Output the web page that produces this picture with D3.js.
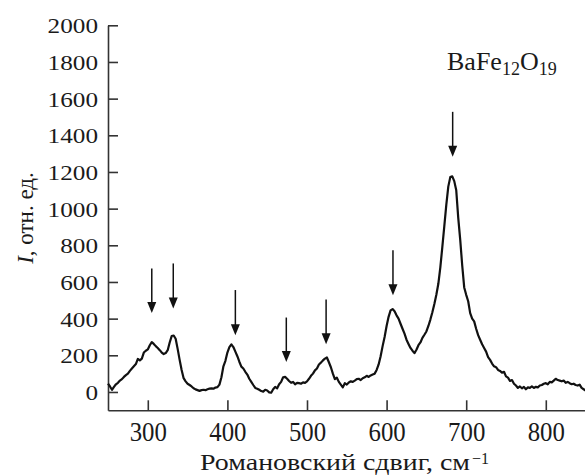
<!DOCTYPE html>
<html>
<head>
<meta charset="utf-8">
<script src="https://cdn.jsdelivr.net/npm/d3@7"></script>
<style>
  html, body { margin: 0; padding: 0; background: #fff; }
  svg { display: block; font-family: "Liberation Serif", "Times New Roman", serif; }
  svg text { font-family: "Liberation Serif", "Times New Roman", serif; fill: #1a1a1a; }
</style>
</head>
<body>
<svg id="chart" width="585" height="475"></svg>
<script>
// Raman spectrum of BaFe12O19: Raman shift (cm^-1) and intensity (arb. units)
const ramanShift = [
  250, 252.5, 255, 257.5, 260, 262.5, 265, 267.5, 270, 272.5,
  275, 277.5, 280, 282.5, 285, 287.5, 290, 292.5, 295, 297.5,
  300, 302.5, 305, 307.5, 310, 312.5, 315, 317.5, 320, 322.5,
  325, 327.5, 330, 332.5, 335, 337.5, 340, 342.5, 345, 347.5,
  350, 352.5, 355, 357.5, 360, 362.5, 365, 367.5, 370, 372.5,
  375, 377.5, 380, 382.5, 385, 387.5, 390, 392.5, 395, 397.5,
  400, 402.5, 405, 407.5, 410, 412.5, 415, 417.5, 420, 422.5,
  425, 427.5, 430, 432.5, 435, 437.5, 440, 442.5, 445, 447.5,
  450, 452.5, 455, 457.5, 460, 462.5, 465, 467.5, 470, 472.5,
  475, 477.5, 480, 482.5, 485, 487.5, 490, 492.5, 495, 497.5,
  500, 502.5, 505, 507.5, 510, 512.5, 515, 517.5, 520, 522.5,
  525, 527.5, 530, 532.5, 535, 537.5, 540, 542.5, 545, 547.5,
  550, 552.5, 555, 557.5, 560, 562.5, 565, 567.5, 570, 572.5,
  575, 577.5, 580, 582.5, 585, 587.5, 590, 592.5, 595, 597.5,
  600, 602.5, 605, 607.5, 610, 612.5, 615, 617.5, 620, 622.5,
  625, 627.5, 630, 632.5, 635, 637.5, 640, 642.5, 645, 647.5,
  650, 652.5, 655, 657.5, 660, 662.5, 665, 667.5, 670, 672.5,
  675, 677.5, 680, 682.5, 685, 687.5, 690, 692.5, 695, 697.5,
  700, 702.5, 705, 707.5, 710, 712.5, 715, 717.5, 720, 722.5,
  725, 727.5, 730, 732.5, 735, 737.5, 740, 742.5, 745, 747.5,
  750, 752.5, 755, 757.5, 760, 762.5, 765, 767.5, 770, 772.5,
  775, 777.5, 780, 782.5, 785, 787.5, 790, 792.5, 795, 797.5,
  800, 802.5, 805, 807.5, 810, 812.5, 815, 817.5, 820, 822.5,
  825, 827.5, 830, 832.5, 835, 837.5, 840, 842.5, 845, 847.5,
  850
];
const intensity = [
  46, 30, 12, 28, 42, 50, 62, 70, 82, 92,
  100, 115, 128, 140, 152, 180, 172, 182, 215, 225,
  232, 255, 272, 262, 250, 240, 228, 215, 207, 212,
  228, 270, 305, 308, 290, 235, 175, 120, 75, 58,
  45, 38, 30, 20, 14, 10, 6, 10, 12, 10,
  15, 18, 20, 18, 24, 26, 40, 80, 140, 170,
  215, 245, 260, 245, 220, 195, 165, 138, 128, 110,
  95, 72, 55, 38, 22, 18, 12, 5, 2, 12,
  8, -2, -4, 15, 28, 20, 42, 55, 80, 82,
  72, 60, 50, 55, 42, 50, 48, 45, 52, 50,
  58, 72, 88, 100, 118, 128, 150, 160, 172, 182,
  188, 162, 135, 100, 70, 78, 55, 40, 25, 48,
  40, 52, 58, 55, 62, 70, 72, 65, 75, 80,
  88, 82, 90, 95, 100, 120, 150, 195, 250, 300,
  360, 410, 445, 452, 440, 418, 400, 372, 345, 318,
  285, 262, 240, 225, 212, 230, 255, 270, 295, 312,
  330, 360, 395, 435, 480, 530, 590, 680, 790, 905,
  1020, 1120, 1172, 1176, 1150, 1100, 950, 830, 690, 570,
  530, 495, 430, 400, 385, 345, 310, 285, 260, 240,
  220, 190, 175, 155, 140, 135, 120, 115, 105, 110,
  85, 78, 60, 65, 45, 35, 22, 30, 20, 28,
  15, 25, 22, 30, 22, 28, 25, 35, 38, 45,
  48, 42, 55, 52, 62, 72, 65, 62, 58, 62,
  50, 55, 48, 42, 45, 38, 35, 40, 22, 15,
  8
];

// Peak markers: position, arrow tip and arrow tail (intensity units)
const arrowShift = [305, 332, 410, 474, 524, 608, 683];
const arrowTip   = [431, 455, 309, 164, 260, 528, 1283];
const arrowTail  = [674, 701, 556, 406, 504, 773, 1528];

const xTicks = [300, 400, 500, 600, 700, 800];
const yTicks = [0, 200, 400, 600, 800, 1000, 1200, 1400, 1600, 1800, 2000];

const svg = d3.select("#chart");
const serif = "'Liberation Serif', 'Times New Roman', serif";

const x = d3.scaleLinear().domain([250, 850]).range([108, 585.6]);
const y = d3.scaleLinear().domain([-100, 2000]).range([410.3, 25.3]);

const axisColor = "#333";

// y axis with inward ticks
const yAxis = svg.append("g")
  .attr("transform", `translate(${x(250)},0)`)
  .call(d3.axisLeft(y).tickValues(yTicks).tickFormat(d3.format("d"))
    .tickSize(-10).tickSizeOuter(0).tickPadding(10));

// x axis with inward ticks
const xAxis = svg.append("g")
  .attr("transform", `translate(0,${y(-100)})`)
  .call(d3.axisBottom(x).tickValues(xTicks).tickFormat(d3.format("d"))
    .tickSize(-10).tickSizeOuter(0));

[yAxis, xAxis].forEach(g => {
  g.attr("font-family", serif);
  g.select(".domain").attr("stroke", axisColor).attr("stroke-width", 1.6);
  g.selectAll(".tick line").attr("stroke", axisColor).attr("stroke-width", 1.6);
});

yAxis.selectAll(".tick text")
  .style("font-family", serif)
  .attr("font-size", 22)
  .attr("fill", "#1a1a1a")
  .attr("dy", "0.34em")
  .attr("textLength", d => String(d).length * 12.6)
  .attr("lengthAdjust", "spacingAndGlyphs");

xAxis.selectAll(".tick text")
  .style("font-family", serif)
  .attr("font-size", 27)
  .attr("fill", "#1a1a1a")
  .attr("y", 31)
  .attr("dy", 0)
  .attr("textLength", d => String(d).length * 12.4)
  .attr("lengthAdjust", "spacingAndGlyphs");

// spectrum
const line = d3.line()
  .x((d, i) => x(ramanShift[i]))
  .y(d => y(d));

svg.append("path")
  .datum(intensity)
  .attr("fill", "none")
  .attr("stroke", "#111")
  .attr("stroke-width", 2.2)
  .attr("stroke-linejoin", "round")
  .attr("d", line);

// peak arrows
const arrows = svg.append("g");
arrowShift.forEach((s, i) => {
  const ax = x(s), yTip = y(arrowTip[i]), yTail = y(arrowTail[i]);
  const headLen = 11, headHalf = 4.5;
  arrows.append("line")
    .attr("x1", ax).attr("x2", ax)
    .attr("y1", yTail).attr("y2", yTip - headLen + 1)
    .attr("stroke", "#111").attr("stroke-width", 1.5);
  arrows.append("path")
    .attr("d", `M${ax},${yTip} L${ax - headHalf},${yTip - headLen} L${ax + headHalf},${yTip - headLen} Z`)
    .attr("fill", "#111");
});

// compound label
const lab = svg.append("text")
  .style("font-family", serif)
  .attr("x", 447).attr("y", 70)
  .attr("font-size", 26);
lab.append("tspan").text("BaFe");
lab.append("tspan").attr("font-size", 18).attr("dy", 5).text("12");
lab.append("tspan").attr("dy", -5).text("O");
lab.append("tspan").attr("font-size", 18).attr("dy", 5).text("19");

// x axis title
const xt = svg.append("text")
  .style("font-family", serif)
  .attr("x", 200).attr("y", 470)
  .attr("font-size", 23);
xt.append("tspan")
  .attr("textLength", 270).attr("lengthAdjust", "spacingAndGlyphs")
  .text("Романовский сдвиг, см");
xt.append("tspan").attr("font-size", 16).attr("dx", 2).attr("dy", -6).text("−1");

// y axis title
const yt = svg.append("text")
  .style("font-family", serif)
  .attr("transform", "translate(33,218) rotate(-90)")
  .attr("text-anchor", "middle")
  .attr("font-size", 23);
yt.append("tspan").attr("font-style", "italic").text("I");
yt.append("tspan").text(", отн. ед.");
</script>
</body>
</html>
